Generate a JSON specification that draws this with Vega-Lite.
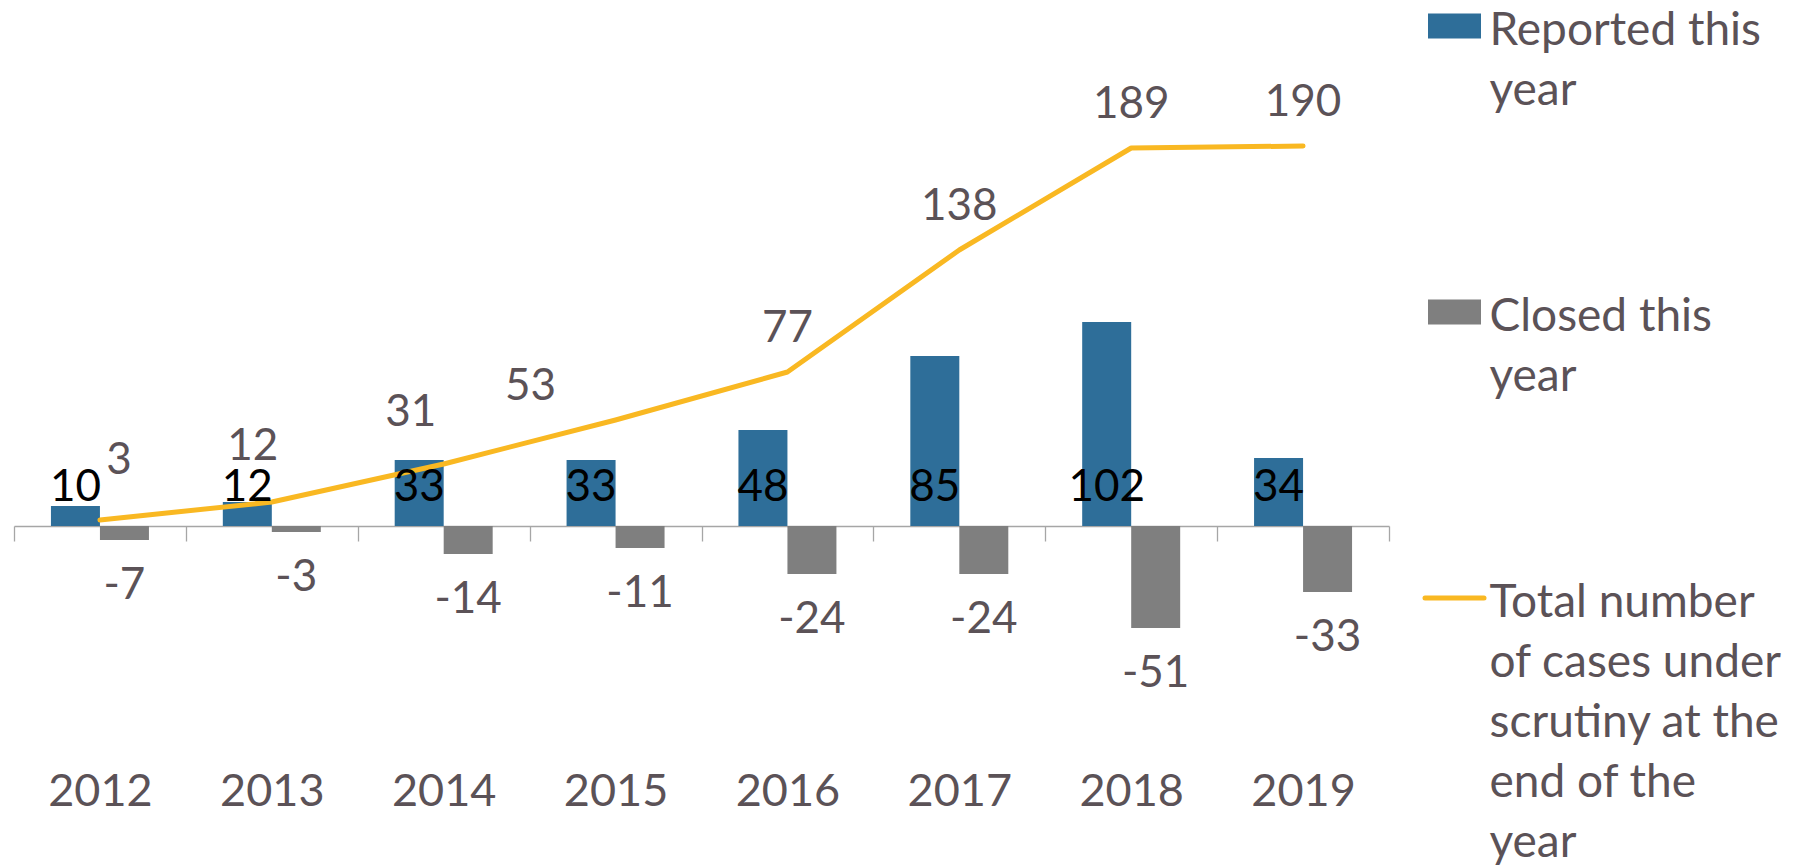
{
  "$schema": "https://vega.github.io/schema/vega-lite/v6.json",
  "autosize": {"type": "pad"},
  "padding": {"left": 13, "top": 8, "right": 10, "bottom": 10},
  "background": "white",
  "config": {
    "view": {"stroke": null},
    "font": "Lato",
    "text": {"font": "Lato"}
  },
  "datasets": {
    "main": [
      {"year": "2012", "series": "Reported this year", "value": 10},
      {"year": "2012", "series": "Closed this year", "value": -7},
      {"year": "2012", "series": "Total", "value": 3},
      {"year": "2013", "series": "Reported this year", "value": 12},
      {"year": "2013", "series": "Closed this year", "value": -3},
      {"year": "2013", "series": "Total", "value": 12},
      {"year": "2014", "series": "Reported this year", "value": 33},
      {"year": "2014", "series": "Closed this year", "value": -14},
      {"year": "2014", "series": "Total", "value": 31},
      {"year": "2015", "series": "Reported this year", "value": 33},
      {"year": "2015", "series": "Closed this year", "value": -11},
      {"year": "2015", "series": "Total", "value": 53},
      {"year": "2016", "series": "Reported this year", "value": 48},
      {"year": "2016", "series": "Closed this year", "value": -24},
      {"year": "2016", "series": "Total", "value": 77},
      {"year": "2017", "series": "Reported this year", "value": 85},
      {"year": "2017", "series": "Closed this year", "value": -24},
      {"year": "2017", "series": "Total", "value": 138},
      {"year": "2018", "series": "Reported this year", "value": 102},
      {"year": "2018", "series": "Closed this year", "value": -51},
      {"year": "2018", "series": "Total", "value": 189},
      {"year": "2019", "series": "Reported this year", "value": 34},
      {"year": "2019", "series": "Closed this year", "value": -33},
      {"year": "2019", "series": "Total", "value": 190}
    ],
    "legend": [
      {"series": "Reported this year", "label": "Reported this\nyear"},
      {"series": "Closed this year", "label": "Closed this\nyear"},
      {"series": "Total", "label": "Total number\nof cases under\nscrutiny at the\nend of the\nyear"}
    ]
  },
  "spacing": 36,
  "bounds": "flush",
  "hconcat": [
    {
      "width": 1375,
      "height": 740,
      "data": {"name": "main"},
      "encoding": {
        "x": {
          "field": "year",
          "type": "ordinal",
          "scale": {"paddingInner": 0, "paddingOuter": 0},
          "axis": {
            "title": null,
            "labelAngle": 0,
            "offset": -240,
            "tickBand": "extent",
            "tickSize": 15,
            "tickColor": "#a6a6a6",
            "domainColor": "#a6a6a6",
            "domainWidth": 1.3,
            "tickWidth": 1.3,
            "labelPadding": 228,
            "labelBaseline": "top",
            "labelFont": "Lato",
            "labelFontSize": 45,
            "labelColor": "#5b5257",
            "grid": false
          }
        },
        "y": {
          "field": "value",
          "type": "quantitative",
          "scale": {"domain": [-120, 250], "nice": false, "zero": false},
          "axis": null
        }
      },
      "layer": [
        {
          "transform": [{"filter": "datum.series !== 'Total'"}],
          "mark": {"type": "bar"},
          "encoding": {
            "xOffset": {
              "field": "series",
              "type": "nominal",
              "scale": {"domain": ["Reported this year", "Closed this year"], "paddingInner": 0, "paddingOuter": 0.754}
            },
            "color": {
              "field": "series",
              "type": "nominal",
              "scale": {"domain": ["Reported this year", "Closed this year", "Total"], "range": ["#2e6e99", "#7f7f7f", "#f9b822"]},
              "legend": null
            }
          }
        },
        {
          "transform": [{"filter": "datum.series === 'Total'"}],
          "mark": {"type": "line", "color": "#f9b822", "strokeWidth": 5, "strokeCap": "round", "strokeJoin": "round"},
          "encoding": {}
        },
        {
          "transform": [{"filter": "datum.series === 'Reported this year'"}],
          "mark": {"type": "text", "fontSize": 44, "color": "#000000", "baseline": "alphabetic", "dy": -25},
          "encoding": {
            "xOffset": {"field": "series", "type": "nominal"},
            "y": {"datum": 0, "type": "quantitative"},
            "text": {"field": "value", "type": "nominal"}
          }
        },
        {
          "transform": [{"filter": "datum.series === 'Closed this year'"}],
          "mark": {"type": "text", "fontSize": 44, "color": "#5b5257", "baseline": "top", "dy": 24},
          "encoding": {
            "xOffset": {"field": "series", "type": "nominal"},
            "text": {"field": "value", "type": "nominal"}
          }
        },
        {
          "transform": [{"filter": "datum.series === 'Total' && datum.year >= '2016'"}],
          "mark": {"type": "text", "fontSize": 44, "color": "#5b5257", "baseline": "middle", "dy": -43},
          "encoding": {"text": {"field": "value", "type": "nominal"}}
        },
        {
          "transform": [{"filter": "datum.series === 'Total' && datum.year === '2012'"}],
          "mark": {"type": "text", "fontSize": 44, "color": "#5b5257", "baseline": "middle", "dx": 19, "dy": -59},
          "encoding": {"text": {"field": "value", "type": "nominal"}}
        },
        {
          "transform": [{"filter": "datum.series === 'Total' && datum.year === '2013'"}],
          "mark": {"type": "text", "fontSize": 44, "color": "#5b5257", "baseline": "middle", "dx": -19, "dy": -55},
          "encoding": {"text": {"field": "value", "type": "nominal"}}
        },
        {
          "transform": [{"filter": "datum.series === 'Total' && datum.year === '2014'"}],
          "mark": {"type": "text", "fontSize": 44, "color": "#5b5257", "baseline": "middle", "dx": -33, "dy": -51},
          "encoding": {"text": {"field": "value", "type": "nominal"}}
        },
        {
          "transform": [{"filter": "datum.series === 'Total' && datum.year === '2015'"}],
          "mark": {"type": "text", "fontSize": 44, "color": "#5b5257", "baseline": "middle", "dx": -85, "dy": -33},
          "encoding": {"text": {"field": "value", "type": "nominal"}}
        }
      ]
    },
    {
      "width": 59,
      "height": 572,
      "data": {"name": "legend"},
      "encoding": {
        "y": {
          "field": "series",
          "type": "nominal",
          "sort": null,
          "scale": {"type": "point", "padding": 0, "domain": ["Reported this year", "Closed this year", "Total"]},
          "axis": null
        }
      },
      "layer": [
        {
          "transform": [{"filter": "datum.series !== 'Total'"}],
          "mark": {"type": "point", "shape": "M-1,-0.47H1V0.47H-1Z", "size": 2809, "filled": true, "opacity": 1, "dy": 3},
          "encoding": {
            "color": {
              "field": "series",
              "type": "nominal",
              "scale": {"domain": ["Reported this year", "Closed this year", "Total"], "range": ["#2e6e99", "#7f7f7f", "#f9b822"]},
              "legend": null
            }
          }
        },
        {
          "transform": [{"filter": "datum.series === 'Total'"}],
          "mark": {"type": "point", "shape": "stroke", "size": 3481, "filled": false, "strokeWidth": 5, "strokeCap": "round", "opacity": 1, "color": "#f9b822"},
          "encoding": {}
        },
        {
          "mark": {"type": "text", "align": "left", "baseline": "top", "dx": 35, "dy": -17, "fontSize": 46, "lineHeight": 60, "lineBreak": "\n", "color": "#5b5257"},
          "encoding": {"text": {"field": "label", "type": "nominal"}}
        }
      ]
    }
  ]
}
